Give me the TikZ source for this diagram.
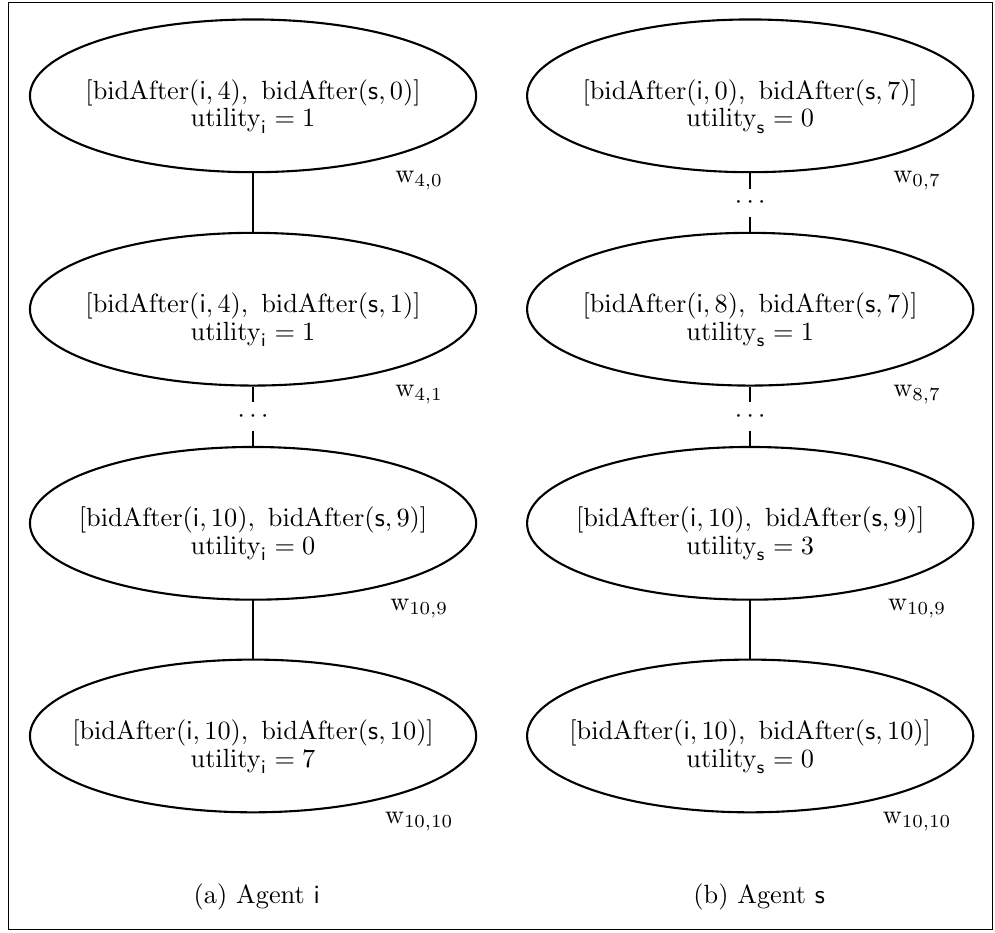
\documentclass[tikz,border=0pt]{standalone}
\usepackage{tikz}
\usetikzlibrary{shapes.geometric}
\tikzset{bidstate/.style={ellipse,draw,thick,minimum width=5.96cm,minimum height=2.04cm,inner xsep=-10pt,inner ysep=2pt,align=center,text height=27.6pt,text depth=4pt,font=\fontsize{10}{10.5}\selectfont},link/.style={thick},weight/.style={inner sep=1pt},gap/.style={inner sep=0pt,minimum height=0.37cm}}

\begin{document}
\begin{tikzpicture}
\useasboundingbox (0,0) rectangle (13.29,-12.45);
\draw (0.11,-0.03) rectangle (13.26,-12.42);
% agent i
\node[bidstate] (i1) at (3.38,-1.28) {$[\mathrm{bidAfter}(\mathsf{i},4),\ \mathrm{bidAfter}(\mathsf{s},0)]$\\$\mathrm{utility}_{\mathsf{i}}=1$};
\node[bidstate] (i2) at (3.38,-4.13) {$[\mathrm{bidAfter}(\mathsf{i},4),\ \mathrm{bidAfter}(\mathsf{s},1)]$\\$\mathrm{utility}_{\mathsf{i}}=1$};
\node[bidstate] (i3) at (3.38,-6.99) {$[\mathrm{bidAfter}(\mathsf{i},10),\ \mathrm{bidAfter}(\mathsf{s},9)]$\\$\mathrm{utility}_{\mathsf{i}}=0$};
\node[bidstate] (i4) at (3.38,-9.83) {$[\mathrm{bidAfter}(\mathsf{i},10),\ \mathrm{bidAfter}(\mathsf{s},10)]$\\$\mathrm{utility}_{\mathsf{i}}=7$};
\node[gap] (di) at (3.38,-5.56) {$\cdots$};
\node[weight] (wi1) at (5.60,-2.41) {$\mathrm{w}_{4,0}$};
\node[weight] (wi2) at (5.60,-5.27) {$\mathrm{w}_{4,1}$};
\node[weight] (wi3) at (5.60,-8.13) {$\mathrm{w}_{10,9}$};
\node[weight] (wi4) at (5.60,-10.97) {$\mathrm{w}_{10,10}$};
\draw[link] (i1) -- (i2);
\draw[link] (i2) -- (di) -- (i3);
\draw[link] (i3) -- (i4);
\node (capi) at (3.43,-11.98) {(a) Agent \textsf{i}};
% agent s
\node[bidstate] (s1) at (10.02,-1.28) {$[\mathrm{bidAfter}(\mathsf{i},0),\ \mathrm{bidAfter}(\mathsf{s},7)]$\\$\mathrm{utility}_{\mathsf{s}}=0$};
\node[bidstate] (s2) at (10.02,-4.13) {$[\mathrm{bidAfter}(\mathsf{i},8),\ \mathrm{bidAfter}(\mathsf{s},7)]$\\$\mathrm{utility}_{\mathsf{s}}=1$};
\node[bidstate] (s3) at (10.02,-6.99) {$[\mathrm{bidAfter}(\mathsf{i},10),\ \mathrm{bidAfter}(\mathsf{s},9)]$\\$\mathrm{utility}_{\mathsf{s}}=3$};
\node[bidstate] (s4) at (10.02,-9.83) {$[\mathrm{bidAfter}(\mathsf{i},10),\ \mathrm{bidAfter}(\mathsf{s},10)]$\\$\mathrm{utility}_{\mathsf{s}}=0$};
\node[gap] (ds1) at (10.02,-2.71) {$\cdots$};
\node[gap] (ds2) at (10.02,-5.56) {$\cdots$};
\node[weight] (ws1) at (12.25,-2.41) {$\mathrm{w}_{0,7}$};
\node[weight] (ws2) at (12.25,-5.27) {$\mathrm{w}_{8,7}$};
\node[weight] (ws3) at (12.25,-8.13) {$\mathrm{w}_{10,9}$};
\node[weight] (ws4) at (12.25,-10.97) {$\mathrm{w}_{10,10}$};
\draw[link] (s1) -- (ds1) -- (s2);
\draw[link] (s2) -- (ds2) -- (s3);
\draw[link] (s3) -- (s4);
\node (caps) at (10.14,-11.98) {(b) Agent \textsf{s}};
\end{tikzpicture}
\end{document}
